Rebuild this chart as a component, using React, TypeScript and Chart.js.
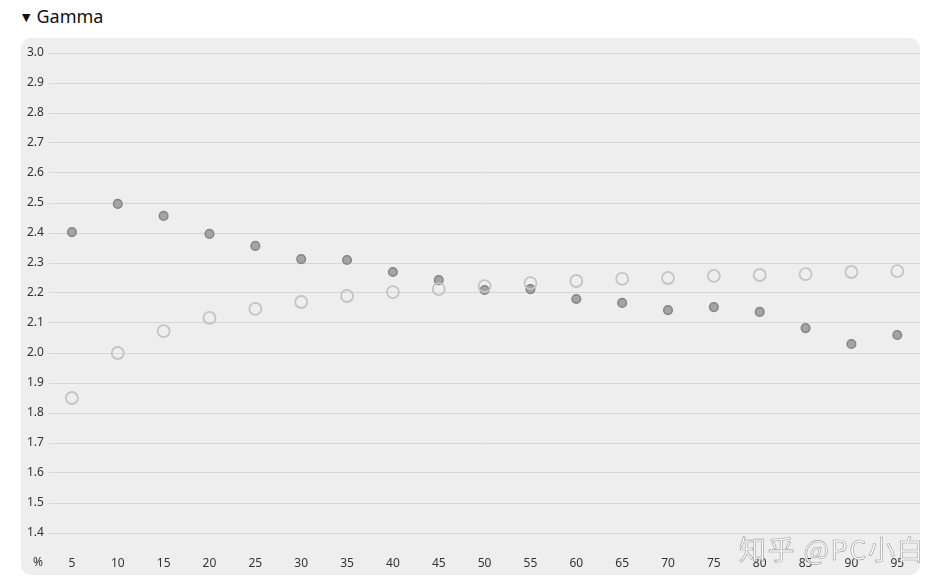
import React, { useEffect, useRef } from "react";
import { Chart, registerables } from "chart.js";

Chart.register(...registerables);

const categories = ["5", "10", "15", "20", "25", "30", "35", "40", "45", "50", "55", "60", "65", "70", "75", "80", "85", "90", "95"];
const measuredGamma = [2.403, 2.497, 2.457, 2.397, 2.357, 2.313, 2.31, 2.27, 2.243, 2.21, 2.213, 2.18, 2.167, 2.143, 2.153, 2.137, 2.083, 2.03, 2.06];
const referenceGamma = [1.85, 2.0, 2.073, 2.117, 2.147, 2.17, 2.19, 2.203, 2.213, 2.223, 2.233, 2.24, 2.247, 2.25, 2.257, 2.26, 2.263, 2.27, 2.273];
const yMin = 1.4;
const yMax = 3.0;
const xUnitLabel = "%";
const title = "Gamma";
const watermark = "知乎 @PC小白";

const FONT = "'Noto Sans', 'DejaVu Sans', sans-serif";

export default function App() {
  const ref = useRef<HTMLCanvasElement | null>(null);

  useEffect(() => {
    if (!ref.current) return;
    const unitPlugin = {
      id: "unitLabel",
      afterDraw(chart: any) {
        const { ctx, chartArea } = chart;
        ctx.save();
        ctx.font = `12px ${FONT}`;
        ctx.fillStyle = "#333";
        ctx.textAlign = "center";
        ctx.textBaseline = "middle";
        ctx.fillText(xUnitLabel, chartArea.left - 11, chartArea.bottom + 30);
        ctx.restore();
      },
    };
    const chart = new Chart(ref.current, {
      type: "line",
      data: {
        labels: categories,
        datasets: [
          {
            label: "reference",
            data: referenceGamma,
            showLine: false,
            pointRadius: 6,
            pointBorderWidth: 1.8,
            pointBorderColor: "#c4c4c4",
            pointBackgroundColor: "rgba(0,0,0,0)",
          },
          {
            label: "measured",
            data: measuredGamma,
            showLine: false,
            pointRadius: 4.3,
            pointBorderWidth: 1.5,
            pointBorderColor: "#858585",
            pointBackgroundColor: "#a4a4a4",
          },
        ],
      },
      options: {
        animation: false,
        responsive: false,
        maintainAspectRatio: false,
        layout: { padding: { left: 6, top: 15, right: 0, bottom: 0 } },
        plugins: { legend: { display: false }, tooltip: { enabled: false } },
        scales: {
          x: {
            type: "category",
            offset: true,
            grid: { display: false, drawTicks: false },
            border: { display: false },
            ticks: { color: "#333", font: { size: 12, family: FONT }, padding: 23, maxRotation: 0, autoSkip: false },
            afterFit(scale: any) {
              scale.height = 42;
            },
          },
          y: {
            min: yMin,
            max: yMax,
            grid: { color: "#d6d6d6", drawTicks: false, lineWidth: 1 },
            border: { display: false },
            ticks: {
              stepSize: 0.1,
              color: "#333",
              font: { size: 12, family: FONT },
              crossAlign: "far",
              padding: 0,
              callback: (v: any) => Number(v).toFixed(1),
            },
            afterFit(scale: any) {
              scale.width = 22;
            },
          },
        },
      },
      plugins: [unitPlugin],
    });
    return () => chart.destroy();
  }, []);

  return (
    <div style={{ position: "relative", width: 930, height: 570, fontFamily: FONT }}>
      <div style={{ position: "absolute", left: 14, top: -4, fontSize: 18, color: "#111", display: "flex", alignItems: "center" }}>
        <span style={{ fontSize: 11, marginRight: 6 }}>▼</span>
        <span>{title}</span>
      </div>
      <div
        style={{
          position: "absolute",
          left: 13,
          top: 30,
          width: 899,
          height: 537,
          background: "#eeeeee",
          borderRadius: 10,
          overflow: "hidden",
        }}
      >
        <canvas ref={ref} width={907} height={537} style={{ display: "block" }} />
      </div>
      <div
        style={{
          position: "absolute",
          left: 731,
          top: 521,
          fontSize: 27,
          color: "rgba(255,255,255,0.9)",
          WebkitTextStroke: "0.6px #9a9a9a",
          fontFamily: "'Noto Sans CJK SC', sans-serif",
          whiteSpace: "nowrap",
          letterSpacing: 1.5,
          pointerEvents: "none",
        }}
      >
        {watermark}
      </div>
    </div>
  );
}
